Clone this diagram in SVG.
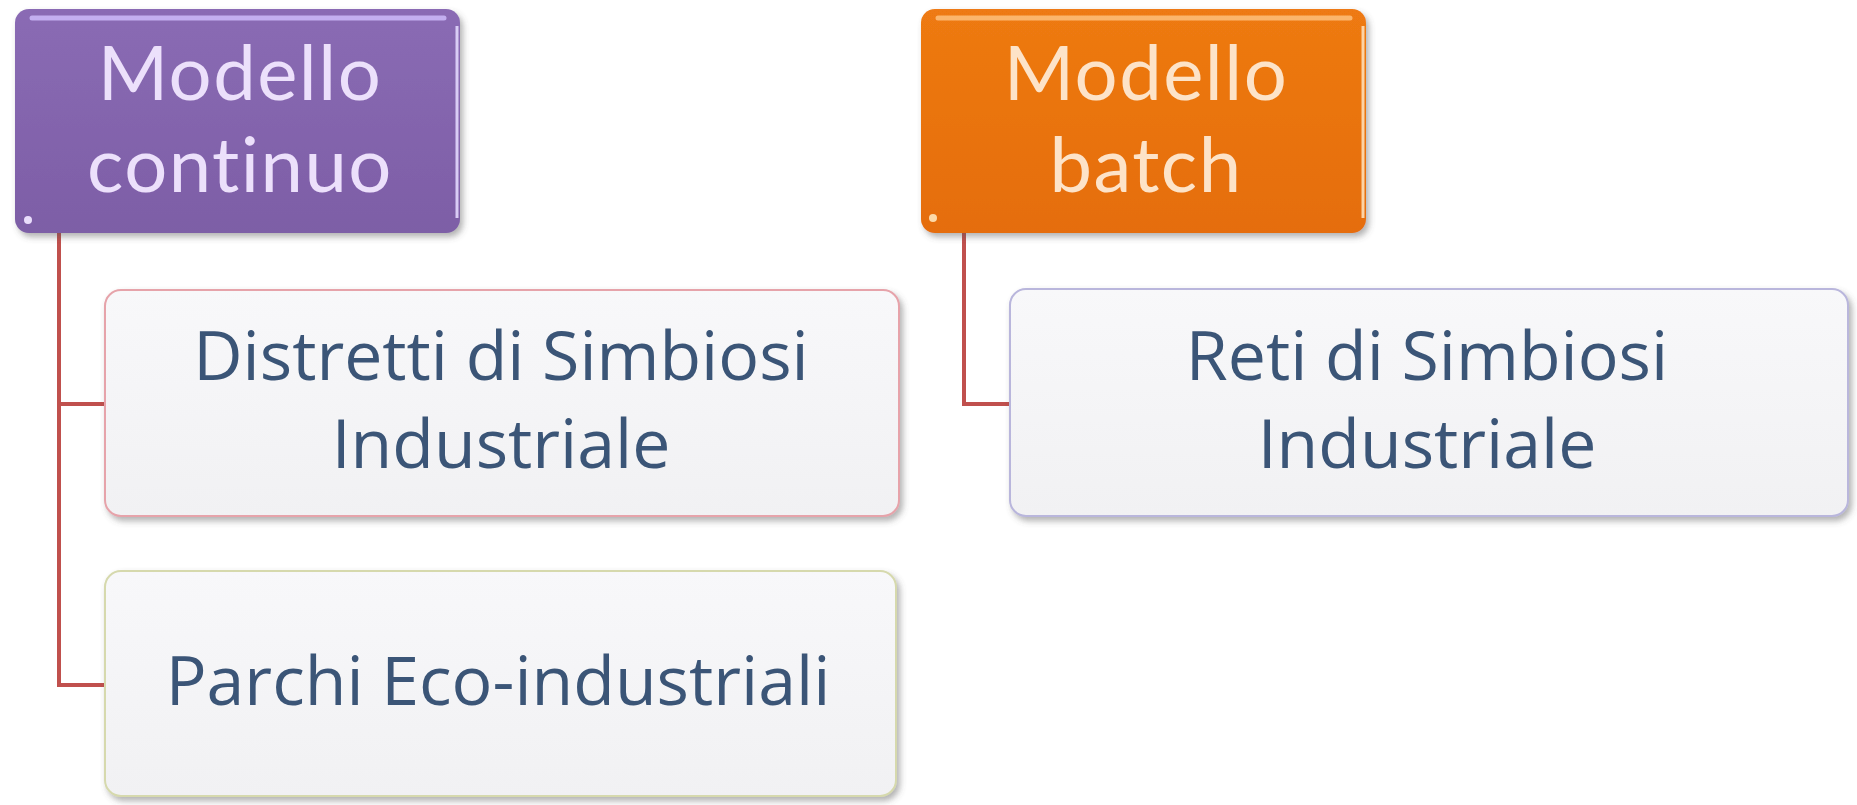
<svg xmlns="http://www.w3.org/2000/svg" width="1857" height="805" viewBox="0 0 1857 805">
  <defs>
    <filter id="shadow" x="-5%" y="-5%" width="112%" height="120%">
      <feDropShadow dx="3" dy="4" stdDeviation="3" flood-color="#555" flood-opacity="0.45"/>
    </filter>
    <linearGradient id="purpleFill" x1="0" y1="0" x2="0" y2="1">
      <stop offset="0" stop-color="#8a6bb4"/>
      <stop offset="1" stop-color="#7d5ea6"/>
    </linearGradient>
    <linearGradient id="orangeFill" x1="0" y1="0" x2="0" y2="1">
      <stop offset="0" stop-color="#ee7a12"/>
      <stop offset="1" stop-color="#e56d0a"/>
    </linearGradient>
    <linearGradient id="childFill" x1="0" y1="0" x2="0" y2="1">
      <stop offset="0" stop-color="#f8f8fa"/>
      <stop offset="1" stop-color="#f1f1f3"/>
    </linearGradient>
  </defs>
  <style>
    .title { font-family: Lato, "Open Sans", sans-serif; font-size: 76px; letter-spacing: 1.5px; text-anchor: middle; font-variant-ligatures: none; }
    .label { font-family: "Open Sans", "Noto Sans", sans-serif; font-size: 68px; text-anchor: middle; fill: #3b5577; }
    .child { fill: url(#childFill); stroke-width: 2; filter: url(#shadow); }
    .link { fill: none; stroke: #c0504d; stroke-width: 4; }
  </style>
  <rect width="1857" height="805" fill="#ffffff"/>

  <g id="connectors">
    <path class="link" d="M59 233 V685 H104"/>
    <path class="link" d="M59 404 H104"/>
    <path class="link" d="M964 233 V404 H1009"/>
  </g>

  <g id="modello-continuo">
    <rect x="15" y="9" width="445" height="224" rx="14" fill="url(#purpleFill)" filter="url(#shadow)"/>
    <line x1="32" y1="18" x2="444" y2="18" stroke="#c3aef0" stroke-width="5" stroke-linecap="round"/>
    <line x1="457" y1="26" x2="457" y2="218" stroke="#d9ccf5" stroke-width="3"/>
    <circle cx="28" cy="220" r="4" fill="#e9ddfb"/>
    <text class="title" x="240" y="100" fill="#ece0fb">Modello</text>
    <text class="title" x="240" y="192" fill="#ece0fb">continuo</text>
  </g>

  <g id="modello-batch">
    <rect x="921" y="9" width="445" height="224" rx="14" fill="url(#orangeFill)" filter="url(#shadow)"/>
    <line x1="938" y1="18" x2="1350" y2="18" stroke="#fbb56c" stroke-width="5" stroke-linecap="round"/>
    <line x1="1363" y1="26" x2="1363" y2="218" stroke="#fdd3a4" stroke-width="3"/>
    <circle cx="933" cy="218" r="4" fill="#fcd9a8"/>
    <text class="title" x="1146" y="100" fill="#fde3c8">Modello</text>
    <text class="title" x="1146" y="192" fill="#fde3c8">batch</text>
  </g>

  <g id="distretti">
    <rect class="child" x="105" y="290" width="794" height="226" rx="16" stroke="#e6a3aa"/>
    <text class="label" x="501" y="380">Distretti di Simbiosi</text>
    <text class="label" x="501" y="468">Industriale</text>
  </g>

  <g id="parchi">
    <rect class="child" x="105" y="571" width="791" height="225" rx="16" stroke="#d6d9ad"/>
    <text class="label" x="498" y="705">Parchi Eco-industriali</text>
  </g>

  <g id="reti">
    <rect class="child" x="1010" y="289" width="838" height="227" rx="16" stroke="#b9b6dc"/>
    <text class="label" x="1427" y="380">Reti di Simbiosi</text>
    <text class="label" x="1427" y="468">Industriale</text>
  </g>
</svg>
